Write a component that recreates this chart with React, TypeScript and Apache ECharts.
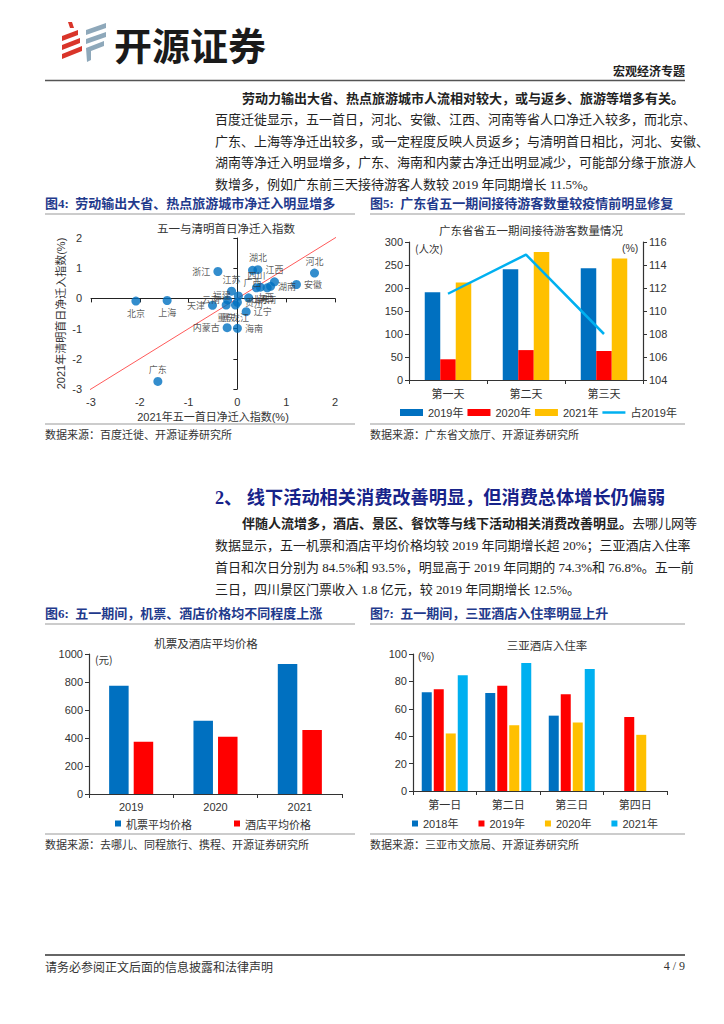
import React, { useEffect, useRef } from "react";
import * as echarts from "echarts";

const CJK = "'Noto Sans CJK SC', sans-serif";
const SERIF = "'Liberation Serif', 'Noto Sans CJK SC', serif";
const SANS = "'Liberation Sans', 'Noto Sans CJK SC', sans-serif";
const NAVY = "#1F3A8C";
const TXT = "#222";

// ---------- Figure 4: net in-migration index ----------
const provinces = ["河北", "安徽", "浙江", "湖北", "广西", "江西", "湖南", "四川", "山东", "河南", "江苏", "山西", "福建", "云南", "重庆", "天津", "黑龙江", "贵州", "辽宁", "北京", "上海", "内蒙古", "海南", "广东"];
const mayDayIndex = [1.58, 1.21, -0.4, 0.42, 0.31, 0.76, 0.68, 0.39, 0.47, 0.61, -0.12, 0.23, 0.02, -0.2, -0.23, -0.51, -0.04, 0.0, 0.18, -2.08, -1.44, -0.21, 0.0, -1.63];
const qingmingIndex = [0.84, 0.46, 0.89, 0.95, 0.93, 0.55, 0.4, 0.35, 0.37, 0.35, 0.24, 0.02, 0.08, -0.05, -0.22, -0.23, -0.22, -0.13, -0.44, -0.09, -0.07, -0.97, -0.99, -2.75];
const diagonalRef = [[-3.3, -3.3], [2.05, 2.05]];
const fig4Ticks = { min: -3, max: 2, interval: 1 };

// ---------- Figure 5: Guangdong visitors ----------
const days5 = ["第一天", "第二天", "第三天"];
const visitors2019 = [191, 241, 243];
const visitors2020 = [45, 65, 63];
const visitors2021 = [212, 278, 264];
const shareOf2019 = [111.5, 114.9, 108.0];

// ---------- Figure 6: air ticket & hotel prices ----------
const years6 = ["2019", "2020", "2021"];
const airfare = [773, 524, 929];
const hotelPrice = [374, 409, 457];

// ---------- Figure 7: Sanya hotel occupancy ----------
const days7 = ["第一日", "第二日", "第三日", "第四日"];
const occ2018 = [72, 71.5, 55, null];
const occ2019 = [74.3, 76.8, 70.6, 54];
const occ2020 = [42, 48, 50, 41];
const occ2021 = [84.5, 93.5, 89, null];

// label placement for scatter (style only)
const labelPlace: Record<string, { position: string; offset?: number[] }> = {
  河北: { position: "top" },
  安徽: { position: "right", offset: [2, 3] },
  浙江: { position: "left" },
  湖北: { position: "top" },
  广西: { position: "bottom", offset: [-2, -8] },
  江西: { position: "top", offset: [4, 0] },
  湖南: { position: "right", offset: [0, -2] },
  四川: { position: "top", offset: [-9, 8] },
  山东: { position: "bottom", offset: [0, -5] },
  河南: { position: "bottom", offset: [14, -5] },
  江苏: { position: "top", offset: [-8, 0] },
  山西: { position: "right", offset: [2, 8] },
  福建: { position: "left", offset: [-2, -7] },
  云南: { position: "left", offset: [0, -2] },
  重庆: { position: "bottom", offset: [-19, 2] },
  天津: { position: "left", offset: [0, 2] },
  黑龙江: { position: "bottom", offset: [-1, 2] },
  贵州: { position: "right", offset: [1, 12] },
  辽宁: { position: "right", offset: [4, 12] },
  北京: { position: "bottom" },
  上海: { position: "bottom" },
  内蒙古: { position: "left", offset: [0, 2] },
  海南: { position: "right", offset: [2, 9] },
  广东: { position: "top" },
};

function txt(text: string, x: number, y: number, o: any = {}) {
  return {
    type: "text",
    x,
    y,
    silent: true,
    style: {
      text,
      fill: o.fill || TXT,
      fontSize: o.fontSize || 13,
      fontFamily: o.fontFamily || SERIF,
      fontWeight: o.fontWeight || "normal",
      align: o.align || "left",
      verticalAlign: "middle",
      textAlign: o.align || "left",
      textVerticalAlign: "middle",
      rich: o.rich,
    },
  };
}
function hline(x1: number, x2: number, y: number, stroke = "#999", lineWidth = 1) {
  return { type: "line", silent: true, shape: { x1, y1: y, x2, y2: y }, style: { stroke, lineWidth } };
}
function poly(points: number[][], fill: string) {
  return { type: "polygon", silent: true, shape: { points }, style: { fill } };
}

const RED = "#D9352A";
const GRAY = "#8EA8BA";

const P1 = [98, 119.5, 141, 162.5, 184];
const P2 = [523, 545, 567, 589];

const pageGraphic = [
  // logo
  poly([[68, 22], [72, 22], [74, 28], [70, 28]], RED),
  poly([[62, 36], [78, 30], [78, 35], [62, 41]], RED),
  poly([[62, 45], [80, 38], [80, 43], [62, 50]], RED),
  poly([[62, 54], [82, 46], [82, 51], [62, 59]], RED),
  poly([[86, 30], [106, 23], [106, 28], [86, 35]], GRAY),
  poly([[86, 39], [106, 32], [106, 37], [86, 44]], GRAY),
  poly([[86, 48], [104, 41], [104, 46], [91, 51], [91, 60], [87, 62]], GRAY),
  txt("开源证券", 114, 43, { fontSize: 38, fontWeight: "bold", fontFamily: CJK, fill: "#1a1a1a" }),
  txt("宏观经济专题", 685, 72, { fontSize: 12, fontWeight: "bold", align: "right" }),
  hline(45, 685, 80.5, "#555", 1.5),

  // paragraph 1
  txt("劳动力输出大省、热点旅游城市人流相对较大，或与返乡、旅游等增多有关。", 242, P1[0], { fontWeight: "bold" }),
  txt("百度迁徙显示，五一首日，河北、安徽、江西、河南等省人口净迁入较多，而北京、", 215, P1[1]),
  txt("广东、上海等净迁出较多，或一定程度反映人员返乡；与清明首日相比，河北、安徽、", 215, P1[2]),
  txt("湖南等净迁入明显增多，广东、海南和内蒙古净迁出明显减少，可能部分缘于旅游人", 215, P1[3]),
  txt("数增多，例如广东前三天接待游客人数较 2019 年同期增长 11.5%。", 215, P1[4]),

  // captions fig 4/5
  txt("图4:  劳动输出大省、热点旅游城市净迁入明显增多", 45, 203, { fontWeight: "bold", fill: NAVY }),
  txt("图5:  广东省五一期间接待游客数量较疫情前明显修复", 370, 203, { fontWeight: "bold", fill: NAVY }),
  hline(45, 355, 214),
  hline(370, 685, 214),
  txt("五一与清明首日净迁入指数", 226, 228, { fontSize: 11.5, align: "center", fontFamily: CJK, fill: "#333" }),
  txt("广东省省五一期间接待游客数量情况", 531, 230, { fontSize: 11.5, align: "center", fontFamily: CJK, fill: "#333" }),
  hline(45, 355, 424),
  hline(370, 685, 424),
  txt("数据来源：百度迁徙、开源证券研究所", 45, 434, { fontSize: 11, fontFamily: CJK, fill: "#333" }),
  txt("数据来源：广东省文旅厅、开源证券研究所", 370, 434, { fontSize: 11, fontFamily: CJK, fill: "#333" }),

  // section heading
  txt("2、 线下活动相关消费改善明显，但消费总体增长仍偏弱", 215, 498, { fontSize: 18.2, fontWeight: "bold", fill: "#17238A" }),

  // paragraph 2
  txt("{b|伴随人流增多，酒店、景区、餐饮等与线下活动相关消费改善明显。}{n|去哪儿网等}", 242, P2[0], {
    rich: {
      b: { fontWeight: "bold", fontSize: 13, fontFamily: SERIF, fill: TXT },
      n: { fontWeight: "normal", fontSize: 13, fontFamily: SERIF, fill: TXT },
    },
  }),
  txt("数据显示，五一机票和酒店平均价格均较 2019 年同期增长超 20%；三亚酒店入住率", 215, P2[1]),
  txt("首日和次日分别为 84.5%和 93.5%，明显高于 2019 年同期的 74.3%和 76.8%。五一前", 215, P2[2]),
  txt("三日，四川景区门票收入 1.8 亿元，较 2019 年同期增长 12.5%。", 215, P2[3]),

  // captions fig 6/7
  txt("图6:  五一期间，机票、酒店价格均不同程度上涨", 45, 613, { fontWeight: "bold", fill: NAVY }),
  txt("图7:  五一期间，三亚酒店入住率明显上升", 370, 613, { fontWeight: "bold", fill: NAVY }),
  hline(45, 355, 624),
  hline(370, 685, 624),
  txt("机票及酒店平均价格", 206, 643, { fontSize: 11.5, align: "center", fontFamily: CJK, fill: "#333" }),
  txt("三亚酒店入住率", 547, 645, { fontSize: 11.5, align: "center", fontFamily: CJK, fill: "#333" }),
  hline(45, 355, 834),
  hline(370, 685, 834),
  txt("数据来源：去哪儿、同程旅行、携程、开源证券研究所", 45, 844, { fontSize: 11, fontFamily: CJK, fill: "#333" }),
  txt("数据来源：三亚市文旅局、开源证券研究所", 370, 844, { fontSize: 11, fontFamily: CJK, fill: "#333" }),

  // footer
  hline(45, 685, 955, "#666", 2),
  txt("请务必参阅正文后面的信息披露和法律声明", 45, 966, { fontSize: 12, fontFamily: CJK, fill: "#333" }),
  txt("4 / 9", 685, 966, { fontSize: 12, align: "right", fill: "#333" }),
];

const pageOption = { animation: false, graphic: pageGraphic };

const axisColor = "#333";
const tickLabel = { fontSize: 11, color: "#333", fontFamily: SANS, formatter: (v: number) => String(v) };

const opt4 = {
  animation: false,
  grid: { left: 91, top: 238, width: 244, height: 151 },
  xAxis: [
    {
      type: "value", ...fig4Ticks, position: "bottom",
      axisLine: { show: false, onZero: false }, axisTick: { show: false }, splitLine: { show: false },
      axisLabel: { ...tickLabel, margin: 7 },
      name: "2021年五一首日净迁入指数(%)", nameLocation: "middle", nameGap: 22,
      nameTextStyle: { fontSize: 11, color: "#333", fontFamily: SANS },
    },
    {
      type: "value", ...fig4Ticks, position: "bottom",
      axisLine: { show: true, onZero: true, onZeroAxisIndex: 0, lineStyle: { color: "#222", width: 1 } },
      axisTick: { show: true, length: 4, lineStyle: { color: "#222" } },
      axisLabel: { show: false }, splitLine: { show: false },
    },
  ],
  yAxis: [
    {
      type: "value", ...fig4Ticks, position: "left",
      axisLine: { show: false, onZero: false }, axisTick: { show: false }, splitLine: { show: false },
      axisLabel: { ...tickLabel, margin: 9 },
      name: "2021年清明首日净迁入指数(%)", nameLocation: "middle", nameGap: 25, nameRotate: 90,
      nameTextStyle: { fontSize: 11, color: "#333", fontFamily: SANS },
    },
    {
      type: "value", ...fig4Ticks, position: "left",
      axisLine: { show: true, onZero: true, onZeroAxisIndex: 0, lineStyle: { color: "#222", width: 1 } },
      axisTick: { show: true, length: 4, lineStyle: { color: "#222" } },
      axisLabel: { show: false }, splitLine: { show: false },
    },
  ],
  series: [
    {
      type: "line", data: diagonalRef, xAxisIndex: 0, yAxisIndex: 0, symbol: "none", clip: false, silent: true,
      lineStyle: { color: "#FF5A5A", width: 1 }, z: 1,
    },
    {
      type: "scatter", xAxisIndex: 0, yAxisIndex: 0, symbolSize: 9, z: 3,
      itemStyle: { color: "#0070C0" },
      label: { show: true, formatter: "{b}", fontSize: 9, color: "#333", fontFamily: CJK, distance: 3 },
      labelLayout: { hideOverlap: false },
      data: provinces.map((p, i) => ({
        name: p,
        value: [mayDayIndex[i], qingmingIndex[i]],
        label: labelPlace[p] || { position: "right" },
      })),
    },
  ],
};

const catAxis = (data: string[]) => ({
  type: "category",
  data,
  axisLine: { show: true, lineStyle: { color: axisColor, width: 1.2 } },
  axisTick: { show: true, length: 4, lineStyle: { color: axisColor } },
  axisLabel: { fontSize: 11, color: "#333", fontFamily: CJK, margin: 7 },
});
const valAxis = (min: number, max: number, interval: number, position = "left") => ({
  type: "value",
  min, max, interval, position,
  axisLine: { show: true, lineStyle: { color: axisColor, width: 1.2 } },
  axisTick: { show: true, length: 4, lineStyle: { color: axisColor } },
  splitLine: { show: false },
  axisLabel: { ...tickLabel, margin: 6 },
});

const opt5 = {
  animation: false,
  grid: { left: 409, top: 242, width: 234, height: 138 },
  xAxis: catAxis(days5),
  yAxis: [valAxis(0, 300, 50), valAxis(104, 116, 2, "right")],
  legend: {
    left: 395, top: 402, itemWidth: 23, itemHeight: 7, itemGap: 4,
    textStyle: { fontSize: 11, color: "#333", fontFamily: SANS },
    data: [
      { name: "2019年", icon: "rect" },
      { name: "2020年", icon: "rect" },
      { name: "2021年", icon: "rect" },
      { name: "占2019年", icon: "path://M0,0 L23,0 L23,2.5 L0,2.5 Z" },
    ],
  },
  graphic: [
    txt("(人次)", 415, 248, { fontSize: 10.5, fontFamily: CJK, fill: "#333" }),
    txt("(%)", 622, 248, { fontSize: 10.5, fontFamily: SANS, fill: "#333" }),
  ],
  series: [
    { name: "2019年", type: "bar", data: visitors2019, barWidth: 15.5, barGap: "0%", itemStyle: { color: "#0070C0" } },
    { name: "2020年", type: "bar", data: visitors2020, barWidth: 15.5, barGap: "0%", itemStyle: { color: "#FF0000" } },
    { name: "2021年", type: "bar", data: visitors2021, barWidth: 15.5, barGap: "0%", itemStyle: { color: "#FFC000" } },
    {
      name: "占2019年", type: "line", yAxisIndex: 1, data: shareOf2019, symbol: "none",
      lineStyle: { color: "#00B0F0", width: 2.5 }, itemStyle: { color: "#00B0F0" }, z: 5,
    },
  ],
};

const opt6 = {
  animation: false,
  grid: { left: 89, top: 654, width: 253, height: 140 },
  xAxis: { ...catAxis(years6), axisLabel: { fontSize: 11, color: "#333", fontFamily: SANS, margin: 7 } },
  yAxis: valAxis(0, 1000, 200),
  legend: {
    left: 110, top: 813, icon: "rect", itemWidth: 6, itemHeight: 6, itemGap: 42,
    textStyle: { fontSize: 11, color: "#333", fontFamily: CJK },
    data: ["机票平均价格", "酒店平均价格"],
  },
  graphic: [txt("(元)", 95, 659, { fontSize: 10.5, fontFamily: CJK, fill: "#333" })],
  series: [
    { name: "机票平均价格", type: "bar", data: airfare, barWidth: 19.5, barGap: "26%", itemStyle: { color: "#0070C0" } },
    { name: "酒店平均价格", type: "bar", data: hotelPrice, barWidth: 19.5, barGap: "26%", itemStyle: { color: "#FF0000" } },
  ],
};

const opt7 = {
  animation: false,
  grid: { left: 413, top: 654, width: 254, height: 137 },
  xAxis: catAxis(days7),
  yAxis: valAxis(0, 100, 20),
  legend: {
    left: 407, top: 813, icon: "rect", itemWidth: 6, itemHeight: 6, itemGap: 20,
    textStyle: { fontSize: 11, color: "#333", fontFamily: SANS },
    data: ["2018年", "2019年", "2020年", "2021年"],
  },
  graphic: [txt("(%)", 418, 656, { fontSize: 10.5, fontFamily: SANS, fill: "#333" })],
  series: [
    { name: "2018年", type: "bar", data: occ2018, barWidth: 10, barGap: "20%", itemStyle: { color: "#0070C0" } },
    { name: "2019年", type: "bar", data: occ2019, barWidth: 10, barGap: "20%", itemStyle: { color: "#FF0000" } },
    { name: "2020年", type: "bar", data: occ2020, barWidth: 10, barGap: "20%", itemStyle: { color: "#FFC000" } },
    { name: "2021年", type: "bar", data: occ2021, barWidth: 10, barGap: "20%", itemStyle: { color: "#00B0F0" } },
  ],
};

export default function App() {
  const bgRef = useRef<HTMLDivElement>(null);
  const r4 = useRef<HTMLDivElement>(null);
  const r5 = useRef<HTMLDivElement>(null);
  const r6 = useRef<HTMLDivElement>(null);
  const r7 = useRef<HTMLDivElement>(null);

  useEffect(() => {
    const pairs: [React.RefObject<HTMLDivElement>, any][] = [
      [bgRef, pageOption],
      [r4, opt4],
      [r5, opt5],
      [r6, opt6],
      [r7, opt7],
    ];
    const charts = pairs.map(([r, o]) => {
      const c = echarts.init(r.current as HTMLDivElement, null, { renderer: "svg" });
      c.setOption(o);
      return c;
    });
    return () => charts.forEach((c) => c.dispose());
  }, []);

  const layer: React.CSSProperties = { position: "absolute", left: 0, top: 0, width: 724, height: 1024 };
  return (
    <div style={{ position: "absolute", left: 0, top: 0, width: 724, height: 1024, background: "#fff", overflow: "hidden" }}>
      <div ref={bgRef} style={layer} />
      <div ref={r4} style={layer} />
      <div ref={r5} style={layer} />
      <div ref={r6} style={layer} />
      <div ref={r7} style={layer} />
    </div>
  );
}
